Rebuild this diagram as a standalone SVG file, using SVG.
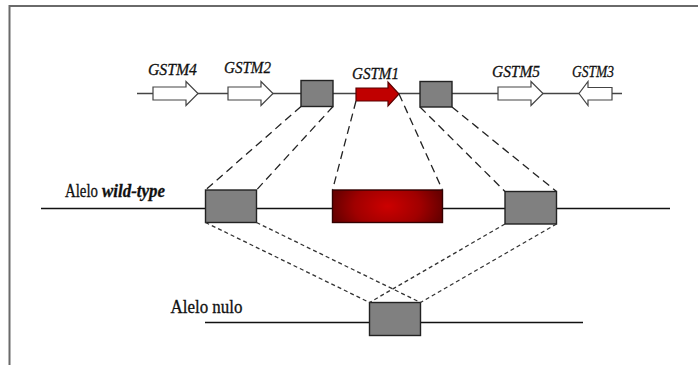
<svg xmlns="http://www.w3.org/2000/svg" width="698" height="365" viewBox="0 0 698 365">
  <style>
    .lbl { font-family: "Liberation Serif", "Times New Roman", serif; font-size: 18px; fill: #111; stroke: #111; stroke-width: 0.3; }
    .gene { font-style: italic; font-size: 17.5px; }
    .chrom { stroke: #444; stroke-width: 1.6; fill: none; }
    .seg { stroke: #111; stroke-width: 1.6; fill: none; }
    .gbox { fill: #808080; stroke: #222; stroke-width: 1.4; }
    .garrow { fill: #fff; stroke: #444; stroke-width: 1.2; }
    .dlong { stroke: #222; stroke-width: 1.3; stroke-dasharray: 8 5; fill: none; }
    .dshort { stroke: #333; stroke-width: 1.3; stroke-dasharray: 4 3; fill: none; }
  </style>
  <defs>
    <radialGradient id="exonFill" cx="0.5" cy="0.5" r="0.5" gradientTransform="translate(0.5 0.5) scale(1 2.2) translate(-0.5 -0.5)">
      <stop offset="0" stop-color="#cc0000"/>
      <stop offset="0.6" stop-color="#a00000"/>
      <stop offset="1" stop-color="#6a0000"/>
    </radialGradient>
  </defs>

  <rect width="698" height="365" fill="#fff"/>
  <!-- outer frame -->
  <polyline points="9.5,370 9.5,6 705,6" fill="none" stroke="#6a6a6a" stroke-width="2"/>

  <!-- gene cluster chromosome -->
  <g id="cluster">
    <line class="chrom" x1="137" y1="93.5" x2="622" y2="93.5"/>
  </g>
  <g id="GSTM4">
    <polygon class="garrow" points="153,87 186,87 186,81.5 198,93.5 186,105.5 186,100 153,100"/>
    <text class="lbl gene" x="148" y="75" textLength="49" lengthAdjust="spacingAndGlyphs">GSTM4</text>
  </g>
  <g id="GSTM2">
    <polygon class="garrow" points="228,87 261,87 261,81.5 273,93.5 261,105.5 261,100 228,100"/>
    <text class="lbl gene" x="224" y="73" textLength="47" lengthAdjust="spacingAndGlyphs">GSTM2</text>
  </g>
  <g id="flank1">
    <rect class="gbox" x="301" y="80.5" width="32" height="26"/>
  </g>
  <g id="GSTM1">
    <polygon points="356,88 388,88 388,82 399,94 388,106 388,101 356,101" fill="#c00000" stroke="#5a0000" stroke-width="1.2"/>
    <text class="lbl gene" x="352" y="79" textLength="47" lengthAdjust="spacingAndGlyphs">GSTM1</text>
  </g>
  <g id="flank2">
    <rect class="gbox" x="420" y="81.5" width="32" height="25.5"/>
  </g>
  <g id="GSTM5">
    <polygon class="garrow" points="498,87 531,87 531,81.5 543,93.5 531,105.5 531,100 498,100"/>
    <text class="lbl gene" x="492" y="77" textLength="48" lengthAdjust="spacingAndGlyphs">GSTM5</text>
  </g>
  <g id="GSTM3">
    <polygon class="garrow" points="612,87.5 588,87.5 588,81.5 579,93.5 588,105.5 588,100 612,100"/>
    <text class="lbl gene" x="572" y="77" textLength="42" lengthAdjust="spacingAndGlyphs">GSTM3</text>
  </g>

  <!-- wild-type allele -->
  <g id="wildtype">
    <line class="seg" x1="41" y1="208.5" x2="670" y2="208.5"/>
    <text class="lbl" x="65" y="196.5" textLength="33" lengthAdjust="spacingAndGlyphs">Alelo</text>
    <text class="lbl" x="72" y="196.5" dx="30" font-weight="bold" font-style="italic" textLength="63" lengthAdjust="spacingAndGlyphs">wild-type</text>
  </g>
  <g id="wt-left">
    <rect class="gbox" x="205.5" y="190" width="51" height="32.5"/>
  </g>
  <g id="wt-exon">
    <rect x="332.5" y="190" width="110" height="32.5" fill="url(#exonFill)" stroke="#300" stroke-width="1.4"/>
  </g>
  <g id="wt-right">
    <rect class="gbox" x="505" y="191.5" width="51.5" height="32.5"/>
  </g>

  <!-- null allele -->
  <g id="null">
    <line class="seg" x1="205" y1="322.5" x2="583" y2="322.5"/>
    <text class="lbl" x="170.5" y="312.5" textLength="72" lengthAdjust="spacingAndGlyphs">Alelo nulo</text>
  </g>
  <g id="null-box">
    <rect class="gbox" x="369.5" y="302.5" width="51" height="33"/>
  </g>

  <!-- connectors -->
  <g id="connectors">
    <line class="dlong" x1="301" y1="106.5" x2="205.5" y2="190"/>
    <line class="dlong" x1="333" y1="106.5" x2="256.5" y2="190"/>
    <line class="dlong" x1="356" y1="101" x2="332.5" y2="190"/>
    <line class="dlong" x1="399" y1="94" x2="442.5" y2="190"/>
    <line class="dlong" x1="420" y1="107" x2="505" y2="191.5"/>
    <line class="dlong" x1="452" y1="107" x2="556.5" y2="191.5"/>

    <line class="dshort" x1="205.5" y1="222.5" x2="369.5" y2="302.5"/>
    <line class="dshort" x1="256.5" y1="222.5" x2="420.5" y2="302.5"/>
    <line class="dshort" x1="505" y1="224" x2="369.5" y2="302.5"/>
    <line class="dshort" x1="556.5" y1="224" x2="420.5" y2="302.5"/>
  </g>
</svg>
